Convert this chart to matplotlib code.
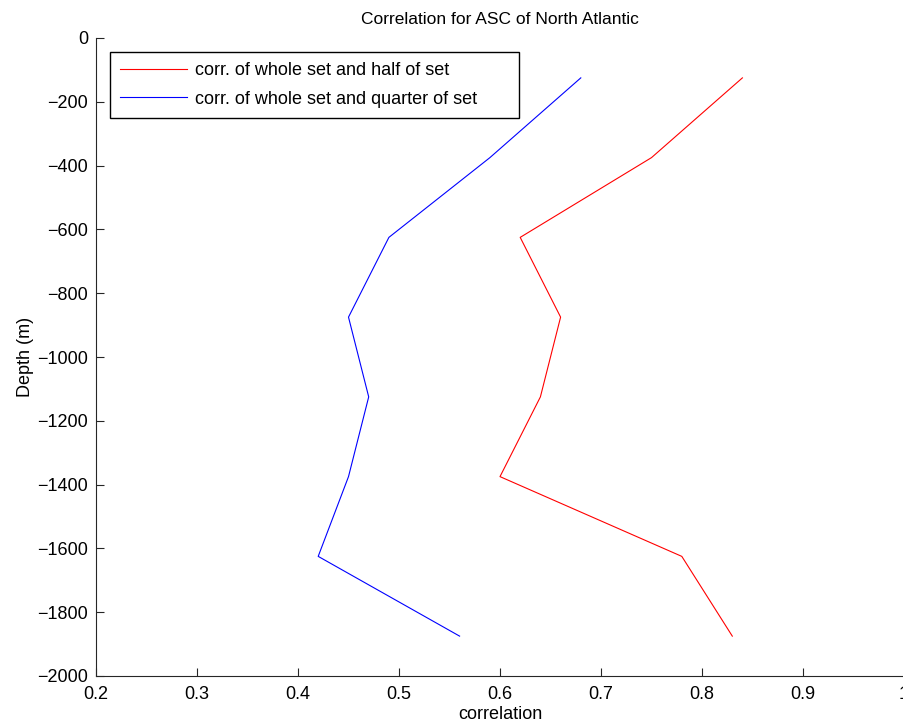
import matplotlib.pyplot as plt

plt.rcParams['font.family'] = ['Liberation Sans', 'DejaVu Sans']

# data
depth = [-125, -375, -625, -875, -1125, -1375, -1625, -1875]
corr_half = [0.84, 0.75, 0.62, 0.66, 0.64, 0.60, 0.78, 0.83]
corr_quarter = [0.68, 0.59, 0.49, 0.45, 0.47, 0.45, 0.42, 0.56]
xticks = [0.2, 0.3, 0.4, 0.5, 0.6, 0.7, 0.8, 0.9, 1.0]
xticklabels = ['0.2', '0.3', '0.4', '0.5', '0.6', '0.7', '0.8', '0.9', '1']
yticks = list(range(0, -2001, -200))

fig = plt.figure(figsize=(9.04, 7.23), dpi=100)
ax = fig.add_axes([96/904, 47/723, 808/904, 638/723])

ax.plot(corr_half, depth, color='#ff0000', lw=0.8, label='corr. of whole set and half of set')
ax.plot(corr_quarter, depth, color='#0000ff', lw=0.8, label='corr. of whole set and quarter of set')

ax.set_xlim(0.2, 1.0)
ax.set_ylim(-2000, 0)
ax.set_xticks(xticks)
ax.set_xticklabels(xticklabels)
ax.set_yticks(yticks)
ax.set_yticklabels([str(t).replace('-', '\u2212') for t in yticks])

ax.spines['top'].set_visible(False)
ax.spines['right'].set_visible(False)
for s in ['left', 'bottom']:
    ax.spines[s].set_linewidth(0.8)
    ax.spines[s].set_color('#262626')
ax.tick_params(direction='in', length=6, width=0.8, labelsize=13, color='#262626')
ax.tick_params(axis='x', pad=7)
ax.tick_params(axis='y', pad=5.5)

ax.set_title('Correlation for ASC of North Atlantic', fontsize=12.5, pad=10)
ax.set_xlabel('correlation', fontsize=13, labelpad=2.5)
ax.set_ylabel('Depth (m)', fontsize=13, labelpad=2.5)

leg = ax.legend(loc='upper left', bbox_to_anchor=(14/808, 624/638, 409/808, 0.0),
                mode='expand', borderaxespad=0,
                fontsize=13, fancybox=False, framealpha=1, edgecolor='black',
                handlelength=3.7, handletextpad=0.45, borderpad=0.55, labelspacing=0.65)
leg.get_frame().set_linewidth(1.0)

fig.savefig('out.png', dpi=100)
